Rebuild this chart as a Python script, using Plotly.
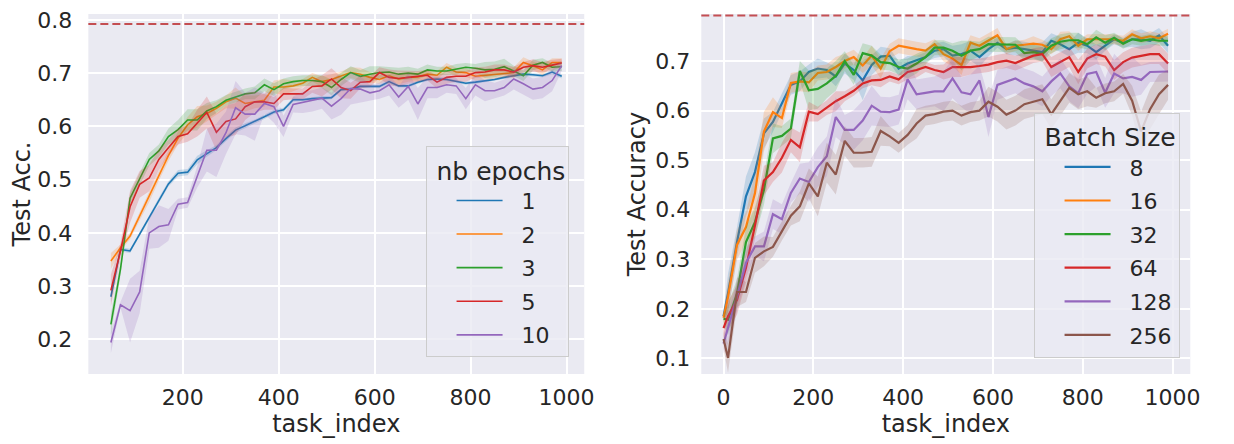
import plotly.graph_objects as go

# left panel: accuracy vs task_index for different nb epochs
task_left = list(range(50, 1000, 20))
epochs_labels = ["1", "2", "3", "5", "10"]

acc_ep1 = [0.280, 0.369, 0.366, 0.397, 0.428, 0.461, 0.492, 0.512, 0.514, 0.537,
           0.549, 0.560, 0.577, 0.593, 0.601, 0.609, 0.618, 0.627, 0.631, 0.650,
           0.650, 0.652, 0.653, 0.654, 0.669, 0.670, 0.675, 0.675, 0.675, 0.684,
           0.676, 0.676, 0.683, 0.688, 0.689, 0.688, 0.685, 0.681, 0.683, 0.685,
           0.688, 0.692, 0.695, 0.698, 0.697, 0.695, 0.702, 0.694]
acc_ep2 = [0.347, 0.372, 0.394, 0.431, 0.468, 0.508, 0.545, 0.578, 0.603, 0.618,
           0.624, 0.634, 0.646, 0.653, 0.643, 0.646, 0.649, 0.674, 0.674, 0.676,
           0.681, 0.692, 0.684, 0.688, 0.695, 0.701, 0.698, 0.692, 0.688, 0.695,
           0.689, 0.692, 0.693, 0.698, 0.696, 0.711, 0.702, 0.701, 0.694, 0.696,
           0.698, 0.700, 0.701, 0.720, 0.714, 0.706, 0.720, 0.720]
acc_ep3 = [0.228, 0.332, 0.465, 0.501, 0.538, 0.554, 0.581, 0.594, 0.612, 0.612,
           0.629, 0.637, 0.649, 0.655, 0.661, 0.663, 0.678, 0.669, 0.680, 0.684,
           0.686, 0.686, 0.684, 0.673, 0.688, 0.701, 0.694, 0.698, 0.701, 0.702,
           0.698, 0.700, 0.698, 0.706, 0.704, 0.704, 0.707, 0.711, 0.709, 0.706,
           0.707, 0.712, 0.704, 0.695, 0.715, 0.720, 0.711, 0.712]
acc_ep5 = [0.292, 0.366, 0.449, 0.491, 0.503, 0.538, 0.560, 0.581, 0.586, 0.606,
           0.626, 0.589, 0.609, 0.614, 0.637, 0.646, 0.646, 0.643, 0.661, 0.661,
           0.661, 0.675, 0.676, 0.689, 0.673, 0.667, 0.683, 0.684, 0.701, 0.692,
           0.690, 0.692, 0.694, 0.696, 0.683, 0.692, 0.694, 0.694, 0.701, 0.702,
           0.706, 0.706, 0.702, 0.711, 0.714, 0.711, 0.715, 0.719]
acc_ep10 = [0.194, 0.265, 0.254, 0.289, 0.400, 0.412, 0.415, 0.454, 0.457, 0.505,
            0.555, 0.555, 0.588, 0.635, 0.623, 0.623, 0.643, 0.637, 0.600, 0.641,
            0.645, 0.648, 0.653, 0.638, 0.652, 0.671, 0.670, 0.663, 0.667, 0.678,
            0.655, 0.675, 0.642, 0.673, 0.673, 0.678, 0.676, 0.652, 0.678, 0.667,
            0.667, 0.673, 0.689, 0.680, 0.670, 0.673, 0.686, 0.714]

# half width of the shaded bands
err_ep1 = [0.010, 0.004, 0.004, 0.004, 0.005, 0.005, 0.005, 0.006, 0.006, 0.008,
           0.006, 0.005, 0.005, 0.005, 0.005, 0.004, 0.004, 0.004, 0.004, 0.004,
           0.003, 0.003, 0.004, 0.003, 0.003, 0.003, 0.003, 0.003, 0.003, 0.004,
           0.003, 0.003, 0.003, 0.003, 0.003, 0.003, 0.003, 0.003, 0.003, 0.003,
           0.003, 0.003, 0.003, 0.003, 0.003, 0.003, 0.004, 0.004]
err_ep2 = [0.015, 0.006, 0.006, 0.008, 0.010, 0.010, 0.010, 0.012, 0.015, 0.020,
           0.015, 0.012, 0.012, 0.020, 0.015, 0.012, 0.012, 0.012, 0.015, 0.010,
           0.008, 0.008, 0.010, 0.010, 0.008, 0.010, 0.012, 0.010, 0.008, 0.008,
           0.010, 0.008, 0.008, 0.008, 0.008, 0.008, 0.008, 0.008, 0.008, 0.008,
           0.008, 0.008, 0.010, 0.010, 0.008, 0.010, 0.008, 0.008]
err_ep3 = [0.020, 0.012, 0.010, 0.012, 0.012, 0.012, 0.015, 0.018, 0.020, 0.020,
           0.015, 0.012, 0.010, 0.010, 0.010, 0.012, 0.012, 0.012, 0.010, 0.010,
           0.010, 0.010, 0.012, 0.015, 0.012, 0.012, 0.012, 0.015, 0.012, 0.010,
           0.012, 0.012, 0.010, 0.010, 0.008, 0.008, 0.010, 0.008, 0.008, 0.015,
           0.015, 0.015, 0.010, 0.010, 0.010, 0.008, 0.008, 0.008]
err_ep5 = [0.030, 0.015, 0.030, 0.025, 0.025, 0.020, 0.015, 0.015, 0.015, 0.025,
           0.030, 0.035, 0.030, 0.030, 0.025, 0.020, 0.015, 0.012, 0.012, 0.010,
           0.010, 0.012, 0.020, 0.020, 0.020, 0.015, 0.012, 0.010, 0.010, 0.015,
           0.015, 0.012, 0.010, 0.010, 0.012, 0.012, 0.010, 0.010, 0.010, 0.010,
           0.010, 0.010, 0.010, 0.010, 0.012, 0.010, 0.010, 0.008]
err_ep10 = [0.020, 0.005, 0.060, 0.040, 0.030, 0.040, 0.030, 0.010, 0.010, 0.020,
            0.040, 0.050, 0.040, 0.050, 0.040, 0.050, 0.020, 0.030, 0.020, 0.015,
            0.020, 0.020, 0.020, 0.025, 0.030, 0.030, 0.025, 0.015, 0.015, 0.020,
            0.020, 0.025, 0.030, 0.020, 0.020, 0.015, 0.015, 0.020, 0.020, 0.020,
            0.015, 0.015, 0.020, 0.020, 0.020, 0.020, 0.020, 0.010]

# right panel: accuracy vs task_index for different batch sizes
task_right = [0] + list(range(10, 1000, 20))
batch_labels = ["8", "16", "32", "64", "128", "256"]

acc_b8 = [0.185, 0.231, 0.335, 0.427, 0.476, 0.554, 0.577, 0.616, 0.652, 0.659,
          0.678, 0.685, 0.682, 0.669, 0.695, 0.682, 0.661, 0.692, 0.709, 0.711,
          0.685, 0.695, 0.701, 0.708, 0.721, 0.724, 0.711, 0.714, 0.721, 0.708,
          0.724, 0.737, 0.724, 0.727, 0.724, 0.721, 0.718, 0.741, 0.734, 0.724,
          0.737, 0.731, 0.718, 0.731, 0.744, 0.737, 0.744, 0.744, 0.741, 0.752,
          0.731]
acc_b16 = [0.182, 0.224, 0.329, 0.365, 0.433, 0.558, 0.597, 0.585, 0.656, 0.659,
           0.657, 0.676, 0.678, 0.688, 0.700, 0.708, 0.691, 0.711, 0.685, 0.720,
           0.731, 0.727, 0.724, 0.721, 0.734, 0.714, 0.705, 0.692, 0.737, 0.731,
           0.741, 0.752, 0.724, 0.731, 0.733, 0.735, 0.733, 0.724, 0.744, 0.750,
           0.731, 0.744, 0.744, 0.744, 0.744, 0.741, 0.754, 0.746, 0.750, 0.746,
           0.755]
acc_b32 = [0.180, 0.178, 0.231, 0.335, 0.375, 0.440, 0.544, 0.549, 0.564, 0.680,
           0.641, 0.644, 0.655, 0.670, 0.700, 0.672, 0.716, 0.711, 0.698, 0.696,
           0.688, 0.685, 0.695, 0.708, 0.727, 0.727, 0.721, 0.711, 0.721, 0.724,
           0.734, 0.734, 0.733, 0.733, 0.716, 0.718, 0.714, 0.731, 0.739, 0.742,
           0.742, 0.734, 0.748, 0.737, 0.747, 0.735, 0.744, 0.741, 0.744, 0.741,
           0.741]
acc_b64 = [0.161, 0.185, 0.218, 0.283, 0.368, 0.459, 0.476, 0.505, 0.541, 0.526,
           0.598, 0.593, 0.606, 0.619, 0.629, 0.640, 0.655, 0.661, 0.662, 0.669,
           0.663, 0.678, 0.682, 0.688, 0.682, 0.678, 0.688, 0.688, 0.688, 0.690,
           0.693, 0.698, 0.701, 0.696, 0.703, 0.711, 0.714, 0.688, 0.698, 0.708,
           0.678, 0.705, 0.714, 0.709, 0.682, 0.698, 0.707, 0.711, 0.714, 0.714,
           0.695]
acc_b128 = [0.130, 0.160, 0.225, 0.293, 0.326, 0.326, 0.391, 0.381, 0.434, 0.463,
            0.456, 0.486, 0.508, 0.587, 0.561, 0.561, 0.580, 0.610, 0.598, 0.597,
            0.602, 0.663, 0.633, 0.636, 0.639, 0.639, 0.665, 0.637, 0.633, 0.661,
            0.587, 0.652, 0.659, 0.665, 0.655, 0.649, 0.639, 0.659, 0.675, 0.649,
            0.635, 0.674, 0.678, 0.636, 0.675, 0.665, 0.668, 0.662, 0.678, 0.679,
            0.679]
acc_b256 = [0.139, 0.101, 0.234, 0.234, 0.303, 0.316, 0.325, 0.358, 0.388, 0.407,
            0.453, 0.427, 0.495, 0.471, 0.539, 0.515, 0.515, 0.517, 0.559, 0.548,
            0.535, 0.551, 0.574, 0.590, 0.593, 0.598, 0.600, 0.590, 0.597, 0.600,
            0.618, 0.608, 0.592, 0.600, 0.613, 0.618, 0.623, 0.593, 0.620, 0.646,
            0.633, 0.639, 0.626, 0.635, 0.639, 0.654, 0.620, 0.558, 0.603, 0.633,
            0.652]

err_b8 = [0.010, 0.040, 0.030, 0.040, 0.040, 0.030, 0.020, 0.020, 0.020, 0.020,
          0.015, 0.020, 0.015, 0.020, 0.020, 0.020, 0.040, 0.020, 0.020, 0.015,
          0.015, 0.015, 0.010, 0.010, 0.015, 0.015, 0.020, 0.020, 0.020, 0.020,
          0.015, 0.010, 0.010, 0.015, 0.015, 0.015, 0.020, 0.015, 0.015, 0.015,
          0.020, 0.015, 0.015, 0.010, 0.010, 0.010, 0.015, 0.020, 0.015, 0.015,
          0.015]
err_b16 = [0.010, 0.030, 0.030, 0.030, 0.040, 0.040, 0.030, 0.020, 0.020, 0.020,
           0.020, 0.015, 0.015, 0.020, 0.015, 0.015, 0.015, 0.020, 0.020, 0.015,
           0.015, 0.015, 0.015, 0.015, 0.010, 0.015, 0.015, 0.020, 0.015, 0.015,
           0.015, 0.015, 0.010, 0.010, 0.010, 0.015, 0.010, 0.010, 0.015, 0.010,
           0.010, 0.010, 0.010, 0.010, 0.010, 0.010, 0.010, 0.010, 0.010, 0.010,
           0.010]
err_b32 = [0.010, 0.030, 0.030, 0.030, 0.030, 0.030, 0.030, 0.020, 0.020, 0.020,
           0.040, 0.040, 0.030, 0.030, 0.020, 0.020, 0.020, 0.020, 0.015, 0.015,
           0.015, 0.020, 0.020, 0.015, 0.015, 0.015, 0.015, 0.030, 0.020, 0.015,
           0.015, 0.015, 0.015, 0.015, 0.015, 0.015, 0.015, 0.015, 0.015, 0.015,
           0.015, 0.010, 0.015, 0.015, 0.010, 0.010, 0.010, 0.010, 0.010, 0.010,
           0.010]
err_b64 = [0.020, 0.030, 0.030, 0.030, 0.030, 0.030, 0.020, 0.030, 0.025, 0.030,
           0.020, 0.015, 0.015, 0.020, 0.010, 0.010, 0.010, 0.010, 0.015, 0.010,
           0.010, 0.015, 0.015, 0.010, 0.010, 0.015, 0.020, 0.020, 0.015, 0.015,
           0.015, 0.015, 0.015, 0.015, 0.015, 0.015, 0.015, 0.020, 0.020, 0.020,
           0.025, 0.020, 0.020, 0.020, 0.020, 0.020, 0.020, 0.020, 0.020, 0.020,
           0.020]
err_b128 = [0.020, 0.030, 0.030, 0.030, 0.020, 0.030, 0.030, 0.030, 0.020, 0.030,
            0.040, 0.040, 0.040, 0.040, 0.030, 0.040, 0.040, 0.040, 0.030, 0.030,
            0.030, 0.040, 0.030, 0.030, 0.030, 0.040, 0.040, 0.030, 0.040, 0.030,
            0.040, 0.030, 0.030, 0.030, 0.030, 0.030, 0.030, 0.030, 0.030, 0.030,
            0.030, 0.040, 0.030, 0.030, 0.040, 0.030, 0.040, 0.030, 0.020, 0.020,
            0.020]
err_b256 = [0.020, 0.030, 0.030, 0.020, 0.030, 0.030, 0.020, 0.020, 0.020, 0.030,
            0.030, 0.040, 0.040, 0.040, 0.030, 0.030, 0.030, 0.030, 0.030, 0.020,
            0.020, 0.020, 0.030, 0.020, 0.020, 0.020, 0.020, 0.020, 0.020, 0.020,
            0.030, 0.030, 0.030, 0.030, 0.030, 0.030, 0.030, 0.030, 0.030, 0.030,
            0.030, 0.030, 0.020, 0.020, 0.020, 0.020, 0.030, 0.040, 0.040, 0.040,
            0.030]

upper_bound = 0.792

colors = ["#1f77b4", "#ff7f0e", "#2ca02c", "#d62728", "#9467bd", "#8c564b"]
FONT = "DejaVu Sans"
TXT = "#262626"

# the page body adds an 8px margin, so lay the figure out 8px smaller
OFF = 8
W, H = 1234 - OFF, 444 - OFF


def px_x(x):
    return (x - OFF) / W


def px_y(y):
    return min(1.0, 1 - (y - OFF) / H)


def rgba(hex_color, a):
    h = hex_color.lstrip("#")
    return "rgba(%d,%d,%d,%s)" % (int(h[0:2], 16), int(h[2:4], 16), int(h[4:6], 16), a)


def add_series(fig, x, y, err, name, color, width, xa, ya, legend, group):
    assert len(x) == len(y) == len(err)
    lo = [v - e for v, e in zip(y, err)]
    hi = [v + e for v, e in zip(y, err)]
    fig.add_trace(go.Scatter(x=x + x[::-1], y=hi + lo[::-1], fill="toself",
                             fillcolor=rgba(color, 0.2), line=dict(width=0),
                             hoverinfo="skip", showlegend=False,
                             xaxis=xa, yaxis=ya, legendgroup=group))
    fig.add_trace(go.Scatter(x=x, y=y, mode="lines", name="\u00a0\u00a0" + name,
                             line=dict(color=color, width=width),
                             xaxis=xa, yaxis=ya, legend=legend, legendgroup=group))


fig = go.Figure()

left = [acc_ep1, acc_ep2, acc_ep3, acc_ep5, acc_ep10]
left_err = [err_ep1, err_ep2, err_ep3, err_ep5, err_ep10]
for i, lab in enumerate(epochs_labels):
    add_series(fig, task_left, left[i], left_err[i], lab, colors[i], 1.6,
               "x", "y", "legend", "ep" + lab)

right = [acc_b8, acc_b16, acc_b32, acc_b64, acc_b128, acc_b256]
right_err = [err_b8, err_b16, err_b32, err_b64, err_b128, err_b256]
for i, lab in enumerate(batch_labels):
    add_series(fig, task_right, right[i], right_err[i], lab, colors[i], 2.2,
               "x2", "y2", "legend2", "bs" + lab)

# dashed reference line
for xa, ya in [("x", "y"), ("x2", "y2")]:
    fig.add_shape(type="line", xref=xa + " domain", yref=ya, x0=0, x1=1,
                  y0=upper_bound, y1=upper_bound,
                  line=dict(color="#C44E52", width=2, dash="8px,4px"))

axis_common = dict(showline=False, zeroline=False, gridcolor="white", gridwidth=1.5,
                   ticks="", ticklabeloverflow="allow",
                   tickfont=dict(family=FONT, size=22, color=TXT),
                   title_font=dict(family=FONT, size=24, color=TXT))

legend_common = dict(xanchor="left", yanchor="top",
                     bgcolor="rgba(234,234,242,0.8)", bordercolor="#cccccc", borderwidth=1,
                     font=dict(family=FONT, size=22, color=TXT),
                     indentation=25, itemwidth=46, tracegroupgap=2)

fig.update_layout(
    width=W, height=H,
    margin=dict(l=0, r=0, t=0, b=0),
    paper_bgcolor="white", plot_bgcolor="#EAEAF2",
    font=dict(family=FONT, color=TXT),
    showlegend=True,
    xaxis=dict(domain=[px_x(89), px_x(589)], range=[3, 1037], anchor="y",
               tickvals=[200, 400, 600, 800, 1000], ticklabelstandoff=8,
               title=dict(text="task_index", standoff=4), **axis_common),
    # plot top sits at the page edge, keep the reference scale (0.1 per 54px)
    yaxis=dict(domain=[px_y(373), px_y(8)], range=[0.135, 0.811], anchor="x",
               tickvals=[0.2, 0.3, 0.4, 0.5, 0.6, 0.7, 0.8], ticklabelstandoff=15,
               title=dict(text="Test Acc.", standoff=6), **axis_common),
    xaxis2=dict(domain=[px_x(707), px_x(1200)], range=[-49.5, 1039.5], anchor="y2",
                tickvals=[0, 200, 400, 600, 800, 1000], ticklabelstandoff=8,
                title=dict(text="task_index", standoff=4), **axis_common),
    yaxis2=dict(domain=[px_y(373), px_y(8)], range=[0.0686, 0.795], anchor="x2",
                tickvals=[0.1, 0.2, 0.3, 0.4, 0.5, 0.6, 0.7], ticklabelstandoff=10,
                title=dict(text="Test Accuracy", standoff=2), **axis_common),
    legend=dict(x=px_x(429), y=px_y(142),
                title=dict(text="\u00a0nb epochs", font=dict(family=FONT, size=25, color=TXT)),
                **legend_common),
    legend2=dict(x=px_x(1042), y=px_y(108),
                 title=dict(text="\u00a0Batch Size", font=dict(family=FONT, size=25, color=TXT)),
                 **legend_common),
)

fig.write_html("out.html")
